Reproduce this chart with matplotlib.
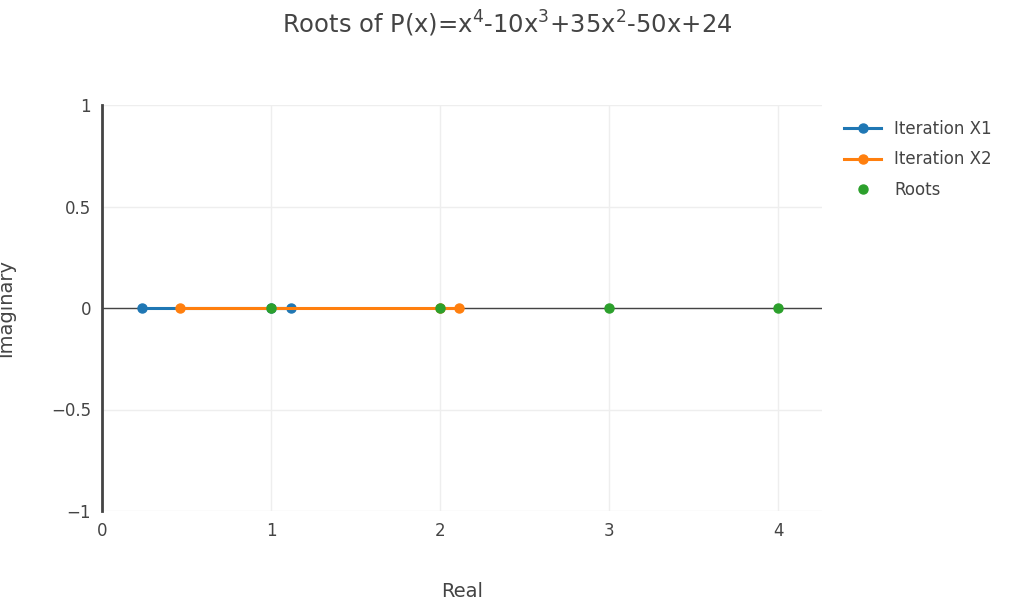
import matplotlib
matplotlib.use("Agg")
import matplotlib.pyplot as plt

x1_re = [0.237, 1.12, 1.0]
x1_im = [0, 0, 0]
x2_re = [0.46, 2.11, 2.0]
x2_im = [0, 0, 0]
roots_re = [1, 2, 3, 4]
roots_im = [0, 0, 0, 0]
xticks = [0, 1, 2, 3, 4]
yticks = [-1, -0.5, 0, 0.5, 1]
yticklabels = ["\u22121", "\u22120.5", "0", "0.5", "1"]

W, H = 1009, 606
fig = plt.figure(figsize=(W/100, H/100), dpi=100)
ax = fig.add_axes([102/W, 1-511/H, (822-102)/W, (511-105)/H])
tc = "#444444"
ax.plot(x1_re, x1_im, '-o', color="#1f77b4", lw=2.2, ms=6.5, label="Iteration X1", zorder=3)
ax.plot(x2_re, x2_im, '-o', color="#ff7f0e", lw=2.2, ms=6.5, label="Iteration X2", zorder=3)
ax.plot(roots_re, roots_im, 'o', color="#2ca02c", ms=6.5, label="Roots", zorder=4)
ax.axhline(0, color="#444444", lw=1, zorder=2)
ax.set_xlim(0, 4.26)
ax.set_ylim(-1, 1)
ax.set_xticks(xticks)
ax.set_yticks(yticks)
ax.set_yticklabels(yticklabels)
ax.grid(True, color="#eeeeee", lw=1)
ax.set_axisbelow(True)
for s in ["top", "right", "bottom"]:
    ax.spines[s].set_visible(False)
ax.spines["left"].set_color("#444444")
ax.spines["left"].set_linewidth(2)
ax.tick_params(length=0, labelsize=12, colors=tc, pad=8)
ax.set_xlabel("Real", fontsize=14, color=tc, labelpad=30)
ax.set_ylabel("Imaginary", fontsize=14, color=tc, labelpad=26)
fig.text(0.503, 1-24/H, "Roots of P(x)=x$^4$-10x$^3$+35x$^2$-50x+24", ha="center", va="center", fontsize=17.5, color=tc)
leg = ax.legend(loc="upper left", bbox_to_anchor=(1.01, 1.0), frameon=False, fontsize=12, labelcolor=tc, handlelength=2.2, labelspacing=0.75)
fig.savefig("out.png", dpi=100)
